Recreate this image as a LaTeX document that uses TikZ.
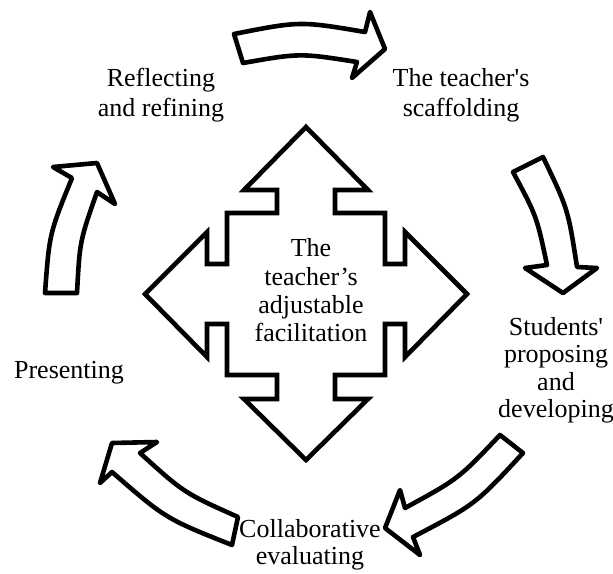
\documentclass[tikz,border=0pt]{standalone}
\usepackage{fontspec}
\setmainfont{Liberation Serif}
\begin{document}
\begin{tikzpicture}[x=1pt,y=-1pt,
  blockarrow/.style={draw=black,fill=white,line width=4.6pt,line join=round},
  crossshape/.style={draw=black,fill=white,line width=4.6pt,line join=miter},
  lbl/.style={inner sep=0pt,outer sep=0pt,align=center,text=black}]
\useasboundingbox (0,0) rectangle (613,573);
% central four-way arrow
\draw[crossshape] (306,127) -- (368,190) -- (335,190) -- (335,213) -- (385,213) -- (385,264)
  -- (405,264) -- (405,232) -- (467,294) -- (405,357) -- (405,324) -- (385,324) -- (385,375)
  -- (335,375) -- (335,399) -- (368,399) -- (306,460) -- (244,399) -- (277,399) -- (277,375)
  -- (227,375) -- (227,324) -- (207,324) -- (207,357) -- (145,294) -- (207,232) -- (207,264)
  -- (227,264) -- (227,213) -- (277,213) -- (277,190) -- (244,190) -- cycle;
% top arrow
\draw[blockarrow] (234,34) .. controls (300,21) .. (365,32) -- (370,12) -- (385,49) -- (352,78)
  -- (357,62) .. controls (300,53) .. (243,63) -- cycle;
% right arrow
\draw[blockarrow] (543,157) .. controls (568.1,209.3) .. (577,267) -- (597,268) -- (563,293)
  -- (525,268) -- (547,265) .. controls (536.7,216.2) .. (513,172) -- cycle;
% bottom-right arrow
\draw[blockarrow] (500,435) -- (523,453) .. controls (475.5,504.3) .. (413,537) -- (420,555)
  -- (385,528) -- (400,490) -- (405,508) .. controls (458.5,478.8) .. (500,435) -- cycle;
% bottom-left arrow
\draw[blockarrow] (238,517) .. controls (184.2,493) .. (140,453) -- (157,442) -- (112,443)
  -- (100,483) -- (112,472) .. controls (165.6,518.6) .. (232,545) -- cycle;
% left arrow
\draw[blockarrow] (45,293) .. controls (49.4,233.4) .. (72,178) -- (53,167) -- (97,163)
  -- (115,204) -- (97,192) .. controls (79.8,240.9) .. (77,293) -- cycle;
% labels
\node[lbl,font=\fontsize{26}{29.5}\selectfont] (reflect) at (161,95.6)
  {\strut Reflecting\\and refining\strut};
\node[lbl,font=\fontsize{26}{29.5}\selectfont] (scaff) at (461,95.8)
  {\strut The teacher\textquotesingle s\\scaffolding\strut};
\node[lbl,font=\fontsize{26}{27.5}\selectfont] (students) at (556,370.8)
  {\strut Students\textquotesingle\\proposing\\and\\developing\strut};
\node[lbl,font=\fontsize{26}{28.3}\selectfont] (center) at (311,293.5)
  {\strut The\\teacher’s\\adjustable\\facilitation\strut};
\node[lbl,font=\fontsize{26}{25}\selectfont] (collab) at (310,545.5)
  {\strut Collaborative\\evaluating\strut};
\node[lbl,font=\fontsize{26}{29}\selectfont,anchor=base] (presenting) at (69,378) {Presenting};
\end{tikzpicture}
\end{document}
